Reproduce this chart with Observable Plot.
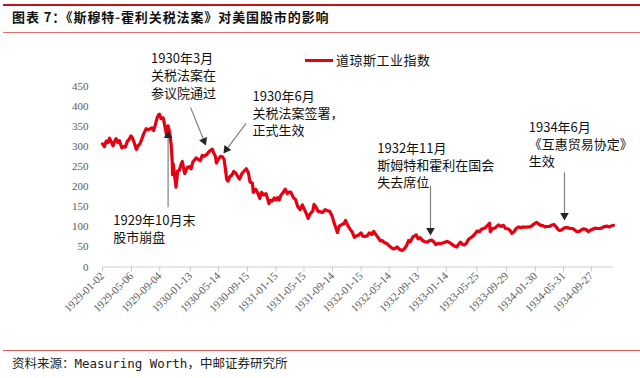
<!DOCTYPE html>
<html>
<head>
<meta charset="utf-8">
<script src="https://cdn.jsdelivr.net/npm/d3@7"></script>
<script src="https://cdn.jsdelivr.net/npm/@observablehq/plot@0.6"></script>
<style>
body{margin:0;background:#fff;}
#wrap{position:relative;width:640px;height:378px;overflow:hidden;font-family:"Noto Sans CJK SC",sans-serif;color:#111;}
#wrap svg{position:absolute;left:0;top:0;}
.rule{position:absolute;}
#title{position:absolute;left:12px;top:8px;font-size:13px;font-weight:bold;line-height:18px;white-space:nowrap;letter-spacing:0.9px;}
#legend{position:absolute;left:305px;top:51px;height:18px;line-height:18px;font-size:13px;white-space:nowrap;letter-spacing:0.5px;}
#legend .sw{display:inline-block;width:28px;height:3px;background:#e60012;vertical-align:middle;margin-right:3px;position:relative;top:-1px;}
#source{position:absolute;left:12px;top:355px;font-size:12.5px;line-height:18px;white-space:nowrap;font-family:"DejaVu Sans Mono","Noto Sans CJK SC",monospace;color:#222;}
[aria-label="x-axis"] line,[aria-label^="x-axis tick"] path{stroke:#c8c8c8;}
</style>
</head>
<body>
<div id="wrap">
  <div class="rule" style="left:3px;top:3.5px;width:637px;height:2px;background:#c0141b;"></div>
  <div id="title">图表 7：《斯穆特-霍利关税法案》对美国股市的影响</div>
  <div class="rule" style="left:3px;top:31.5px;width:637px;height:1.5px;background:#e07070;"></div>
  <div class="rule" style="left:3px;top:349.5px;width:637px;height:1.5px;background:#e05a5a;"></div>
  <div id="source">资料来源：Measuring Worth，中邮证券研究所</div>
</div>
<script>
// ---- Data: Dow Jones Industrial Average ----
const seriesName = "道琼斯工业指数";
const dates = [
 "1929-01-02","1929-01-10","1929-01-18","1929-01-25","1929-02-01","1929-02-08","1929-02-16","1929-02-25","1929-03-01","1929-03-09","1929-03-15","1929-03-26","1929-04-02","1929-04-10","1929-04-18","1929-04-26","1929-05-04","1929-05-11","1929-05-20","1929-05-27","1929-06-03","1929-06-12","1929-06-20","1929-06-28","1929-07-08","1929-07-16","1929-07-24","1929-08-01","1929-08-09","1929-08-16","1929-08-24","1929-08-31","1929-09-03","1929-09-10","1929-09-19","1929-09-26","1929-10-03","1929-10-10","1929-10-16","1929-10-23","1929-10-28","1929-10-29","1929-11-01","1929-11-06","1929-11-13","1929-11-20","1929-11-27","1929-12-04","1929-12-10","1929-12-16","1929-12-20","1929-12-31",
 "1930-01-08","1930-01-17","1930-01-24","1930-01-31","1930-02-07","1930-02-14","1930-02-25","1930-03-05","1930-03-14","1930-03-24","1930-04-01","1930-04-10","1930-04-17","1930-04-24","1930-05-01","1930-05-05","1930-05-14","1930-05-23","1930-05-31","1930-06-07","1930-06-12","1930-06-18","1930-06-24","1930-07-01","1930-07-10","1930-07-18","1930-07-28","1930-08-05","1930-08-12","1930-08-22","1930-09-02","1930-09-10","1930-09-19","1930-09-26","1930-10-06","1930-10-10","1930-10-20","1930-10-30","1930-11-07","1930-11-14","1930-11-24","1930-12-03","1930-12-11","1930-12-16","1930-12-22","1930-12-31",
 "1931-01-08","1931-01-15","1931-01-22","1931-01-29","1931-02-06","1931-02-13","1931-02-24","1931-03-05","1931-03-12","1931-03-20","1931-03-31","1931-04-09","1931-04-18","1931-04-29","1931-05-08","1931-05-16","1931-05-23","1931-06-02","1931-06-10","1931-06-22","1931-06-27","1931-07-06","1931-07-15","1931-07-24","1931-08-03","1931-08-14","1931-08-25","1931-09-02","1931-09-12","1931-09-21","1931-09-30","1931-10-05","1931-10-13","1931-10-24","1931-11-02","1931-11-09","1931-11-19","1931-11-30","1931-12-08","1931-12-17","1931-12-28",
 "1932-01-05","1932-01-14","1932-01-22","1932-02-01","1932-02-10","1932-02-19","1932-03-01","1932-03-08","1932-03-17","1932-03-28","1932-04-06","1932-04-14","1932-04-25","1932-05-03","1932-05-12","1932-05-24","1932-06-01","1932-06-10","1932-06-17","1932-06-27","1932-07-08","1932-07-18","1932-07-28","1932-08-05","1932-08-12","1932-08-24","1932-09-07","1932-09-15","1932-09-24","1932-10-04","1932-10-14","1932-10-25","1932-11-03","1932-11-12","1932-11-21","1932-11-30","1932-12-10","1932-12-20","1932-12-30",
 "1933-01-09","1933-01-18","1933-01-27","1933-02-06","1933-02-15","1933-02-27","1933-03-04","1933-03-15","1933-03-24","1933-03-31","1933-04-08","1933-04-19","1933-04-28","1933-05-08","1933-05-17","1933-05-26","1933-06-05","1933-06-13","1933-06-22","1933-06-30","1933-07-10","1933-07-18","1933-07-21","1933-07-31","1933-08-10","1933-08-25","1933-09-05","1933-09-15","1933-09-25","1933-10-05","1933-10-13","1933-10-21","1933-10-31","1933-11-09","1933-11-20","1933-11-29","1933-12-08","1933-12-18","1933-12-29",
 "1934-01-08","1934-01-18","1934-01-26","1934-02-05","1934-02-14","1934-02-22","1934-03-02","1934-03-12","1934-03-20","1934-03-31","1934-04-09","1934-04-20","1934-04-28","1934-05-07","1934-05-14","1934-05-24","1934-06-01","1934-06-11","1934-06-19","1934-06-28","1934-07-09","1934-07-19","1934-07-26","1934-08-06","1934-08-14","1934-08-23","1934-09-04","1934-09-14","1934-09-24","1934-10-03","1934-10-13","1934-10-24","1934-11-02","1934-11-13","1934-11-22","1934-12-03","1934-12-12","1934-12-21","1934-12-31"
];
const values = [
 307,300,314,310,321,313,302,316,320,310,315,297,300,299,313,318,327,321,306,293,302,308,320,333,345,342,344,347,340,354,372,380,381,370,372,352,330,352,337,306,260,230,257,232,199,240,241,255,263,245,233,248,
 250,245,262,267,272,269,265,278,276,280,286,291,294,284,275,259,270,276,275,268,247,218,214,225,229,238,233,225,219,233,240,245,235,212,209,186,194,183,171,186,180,183,169,158,166,165,
 172,167,173,167,180,184,194,183,187,186,173,168,151,143,155,144,136,121,132,140,156,149,138,138,136,143,140,139,128,110,96,86,102,106,108,116,103,93,87,74,78,
 80,85,77,76,78,85,81,89,82,73,65,66,60,59,54,48,45,47,50,44,41,45,54,66,63,75,80,70,73,66,63,62,66,67,63,56,59,58,60,
 62,64,61,57,53,50,54,62,56,55,58,69,73,77,83,90,88,94,96,98,104,109,88,96,97,105,101,104,96,95,92,84,88,96,100,98,100,99,100,
 100,104,108,111,107,104,104,100,101,101,104,106,101,94,91,93,97,98,98,96,96,92,88,89,92,95,94,88,92,94,97,96,96,98,101,102,100,102,104
];
const tickDates = ["1929-01-02","1929-05-06","1929-09-04","1930-01-13","1930-05-14","1930-09-15","1931-01-15","1931-05-15","1931-09-14","1932-01-15","1932-05-14","1932-09-13","1933-01-14","1933-05-25","1933-09-29","1934-01-30","1934-05-31","1934-09-27"];
const yTicks = [0,50,100,150,200,250,300,350,400,450];

// annotations: text block anchored (top-left) in data coordinates
const noteDates  = ["1929-07-29","1930-10-07","1929-02-17","1932-03-24","1934-01-02"];
const noteValues = [539,445,135,315,368];
const noteTexts  = ["1930年3月\n关税法案在\n参议院通过","1930年6月\n关税法案签署，\n正式生效","1929年10月末\n股市崩盘","1932年11月\n斯姆特和霍利在国会\n失去席位","1934年6月\n《互惠贸易协定》\n生效"];
// arrows: from (date, value) to tip (date, value)
const arrowFromDates = ["1930-01-14","1930-09-09","1929-10-10","1932-11-07","1934-06-04"];
const arrowFromValues = [398,358,149,203,236];
const arrowToDates = ["1930-03-21","1930-06-04","1929-10-10","1932-11-07","1934-06-04"];
const arrowToValues = [303,283,340,78.5,116];

// ---- Build ----
const P = s => new Date(s);
const data = dates.map((d,i)=>({date:P(d), value:values[i]}));
const xDomain = [P("1929-01-02"), P("1934-12-31")];
const W = 640, H = 378, mL = 102, mR = 27, mT = 86, mB = 111.5;
const xs = d3.scaleUtc(xDomain, [mL, W-mR]);
const ys = d3.scaleLinear([0,450], [H-mB, mT]);
const headR = 3.2;
const arrows = arrowFromDates.map((d,i)=>{
  const x1 = P(d), y1 = arrowFromValues[i], x2 = P(arrowToDates[i]), y2 = arrowToValues[i];
  const px1 = xs(x1), py1 = ys(y1), px2 = xs(x2), py2 = ys(y2);
  const dx = px2-px1, dy = py2-py1, len = Math.hypot(dx,dy);
  const ux = dx/len, uy = dy/len;
  const off = 1.555*headR;
  const cx = px2 - ux*off, cy = py2 - uy*off;
  const bx = px2 - ux*off*1.4, by = py2 - uy*off*1.4;
  return {x1, y1, x2: xs.invert(bx), y2: ys.invert(by), hx: xs.invert(cx), hy: ys.invert(cy),
          rot: Math.atan2(dx, -dy)*180/Math.PI};
});
const notes = noteDates.map((d,i)=>({date:P(d), value:noteValues[i], text:noteTexts[i]}));

const chart = Plot.plot({
  width: W, height: H,
  marginLeft: mL, marginRight: mR, marginTop: mT, marginBottom: mB,
  style: {fontFamily: "'Liberation Serif', 'Times New Roman', serif", fontSize: "11px", color: "#595959", background: "transparent", overflow: "visible"},
  x: {type: "utc", domain: xDomain, ticks: tickDates.map(P), tickFormat: d3.utcFormat("%Y-%m-%d"), tickRotate: -45, tickSize: 5, tickPadding: 2, label: null},
  y: {domain: [0,450], ticks: yTicks, tickSize: 0, tickPadding: 14, label: null},
  marks: [
    Plot.ruleY([0], {stroke: "#d0d0d0", strokeWidth: 1}),
    Plot.line(data, {x: "date", y: "value", stroke: "#e60012", strokeWidth: 3.2, strokeLinejoin: "round"}),
    Plot.link(arrows, {x1: "x1", y1: "y1", x2: "x2", y2: "y2", stroke: "#808080", strokeWidth: 1.2}),
    Plot.dot(arrows, {x: "hx", y: "hy", symbol: "triangle", r: headR, fill: "#262626", stroke: "none", rotate: "rot"}),
    Plot.text(notes, {x: "date", y: "value", text: "text", textAnchor: "start", lineAnchor: "top", lineHeight: 1.33,
      fontFamily: "'Noto Sans CJK SC', sans-serif", fontSize: 13, fill: "#111"})
  ]
});
const wrap = document.getElementById("wrap");
wrap.insertBefore(chart, wrap.firstChild);
const lg = document.createElement("div");
lg.id = "legend";
lg.innerHTML = '<span class="sw"></span>' + seriesName;
wrap.appendChild(lg);
</script>
</body>
</html>
